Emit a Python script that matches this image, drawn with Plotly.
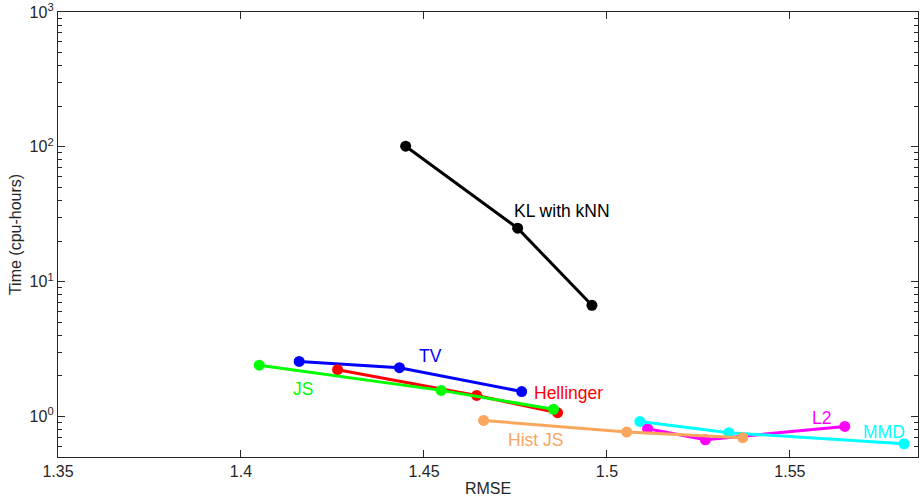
import math
import plotly.graph_objects as go

# RMSE (x) vs. time in cpu-hours (y), one series per divergence
kl_rmse = [1.445, 1.4756, 1.4959]
kl_time = [101, 24.9, 6.67]

tv_rmse = [1.4159, 1.4433, 1.4767]
tv_time = [2.56, 2.30, 1.53]

hell_rmse = [1.4264, 1.4644, 1.4865]
hell_time = [2.22, 1.43, 1.065]

js_rmse = [1.405, 1.4547, 1.4854]
js_time = [2.40, 1.56, 1.13]

l2_rmse = [1.5111, 1.5269, 1.565]
l2_time = [0.81, 0.671, 0.843]

mmd_rmse = [1.509, 1.5333, 1.5812]
mmd_time = [0.918, 0.757, 0.627]

hjs_rmse = [1.4663, 1.5054, 1.5371]
hjs_time = [0.934, 0.765, 0.695]

x_ticks = [1.35, 1.4, 1.45, 1.5, 1.55]
x_ticktext = ["1.35", "1.4", "1.45", "1.5", "1.55"]
y_ticks = [1, 10, 100, 1000]
y_ticktext = ["10<sup>0</sup>", "10<sup>1</sup>", "10<sup>2</sup>", "10<sup>3</sup>"]
y_minor = [m * d for d in (0.1, 1, 10, 100) for m in range(2, 10) if 0.5 <= m * d < 1000]

series = [
    ("KL with kNN", kl_rmse, kl_time, "black"),
    ("TV", tv_rmse, tv_time, "rgb(0,0,255)"),
    ("Hellinger", hell_rmse, hell_time, "rgb(255,0,0)"),
    ("JS", js_rmse, js_time, "rgb(0,255,0)"),
    ("L2", l2_rmse, l2_time, "rgb(255,0,255)"),
    ("MMD", mmd_rmse, mmd_time, "rgb(0,255,255)"),
    ("Hist JS", hjs_rmse, hjs_time, "rgb(250,166,92)"),
]

# label positions (x, y, xanchor)
label_pos = {
    "KL with kNN": (1.4877, 33.3, "center"),
    "TV": (1.4518, 2.79, "center"),
    "JS": (1.4170, 1.61, "center"),
    "Hellinger": (1.4796, 1.48, "left"),
    "Hist JS": (1.4805, 0.664, "center"),
    "L2": (1.5585, 0.966, "center"),
    "MMD": (1.5758, 0.761, "center"),
}

fig = go.Figure()
for name, xs, ys, col in series:
    fig.add_trace(go.Scatter(
        x=xs, y=ys, mode="lines+markers", name=name,
        line=dict(color=col, width=3),
        marker=dict(color=col, size=11),
    ))

for name, xs, ys, col in series:
    lx, ly, anc = label_pos[name]
    # annotations on a log axis take log10 of the value
    fig.add_annotation(x=lx, y=math.log10(ly), text=name, showarrow=False,
                       xanchor=anc, font=dict(color=col, size=17.5))

axis_col = "#262626"
fig.update_xaxes(
    range=[1.35, 1.585], tickvals=x_ticks, ticktext=x_ticktext,
    ticks="inside", ticklen=7, tickcolor=axis_col,
    showline=True, linecolor=axis_col, linewidth=1.3, mirror="ticks",
    showgrid=False, zeroline=False, automargin=False,
    title=dict(text="RMSE", standoff=6, font=dict(size=16, color=axis_col)),
    tickfont=dict(size=16, color=axis_col),
)
fig.update_yaxes(
    type="log", range=[math.log10(0.5), 3], tickvals=y_ticks, ticktext=y_ticktext,
    ticks="inside", ticklen=7, tickcolor=axis_col,
    minor=dict(ticks="inside", ticklen=4, tickvals=y_minor, tickcolor=axis_col),
    showline=True, linecolor=axis_col, linewidth=1.3, mirror="ticks",
    showgrid=False, zeroline=False, automargin=False,
    title=dict(text="Time (cpu-hours)", standoff=4, font=dict(size=16, color=axis_col)),
    tickfont=dict(size=16, color=axis_col),
)
fig.update_layout(
    width=920, height=497,
    margin=dict(l=58, r=2, t=12, b=40),
    plot_bgcolor="white", paper_bgcolor="white",
    showlegend=False,
    font=dict(family="Liberation Sans, Arial, sans-serif"),
)
fig.write_html(
    "out.html",
    config={"displayModeBar": False},
    post_script="document.body.style.margin='0';document.body.style.overflow='hidden';",
)
